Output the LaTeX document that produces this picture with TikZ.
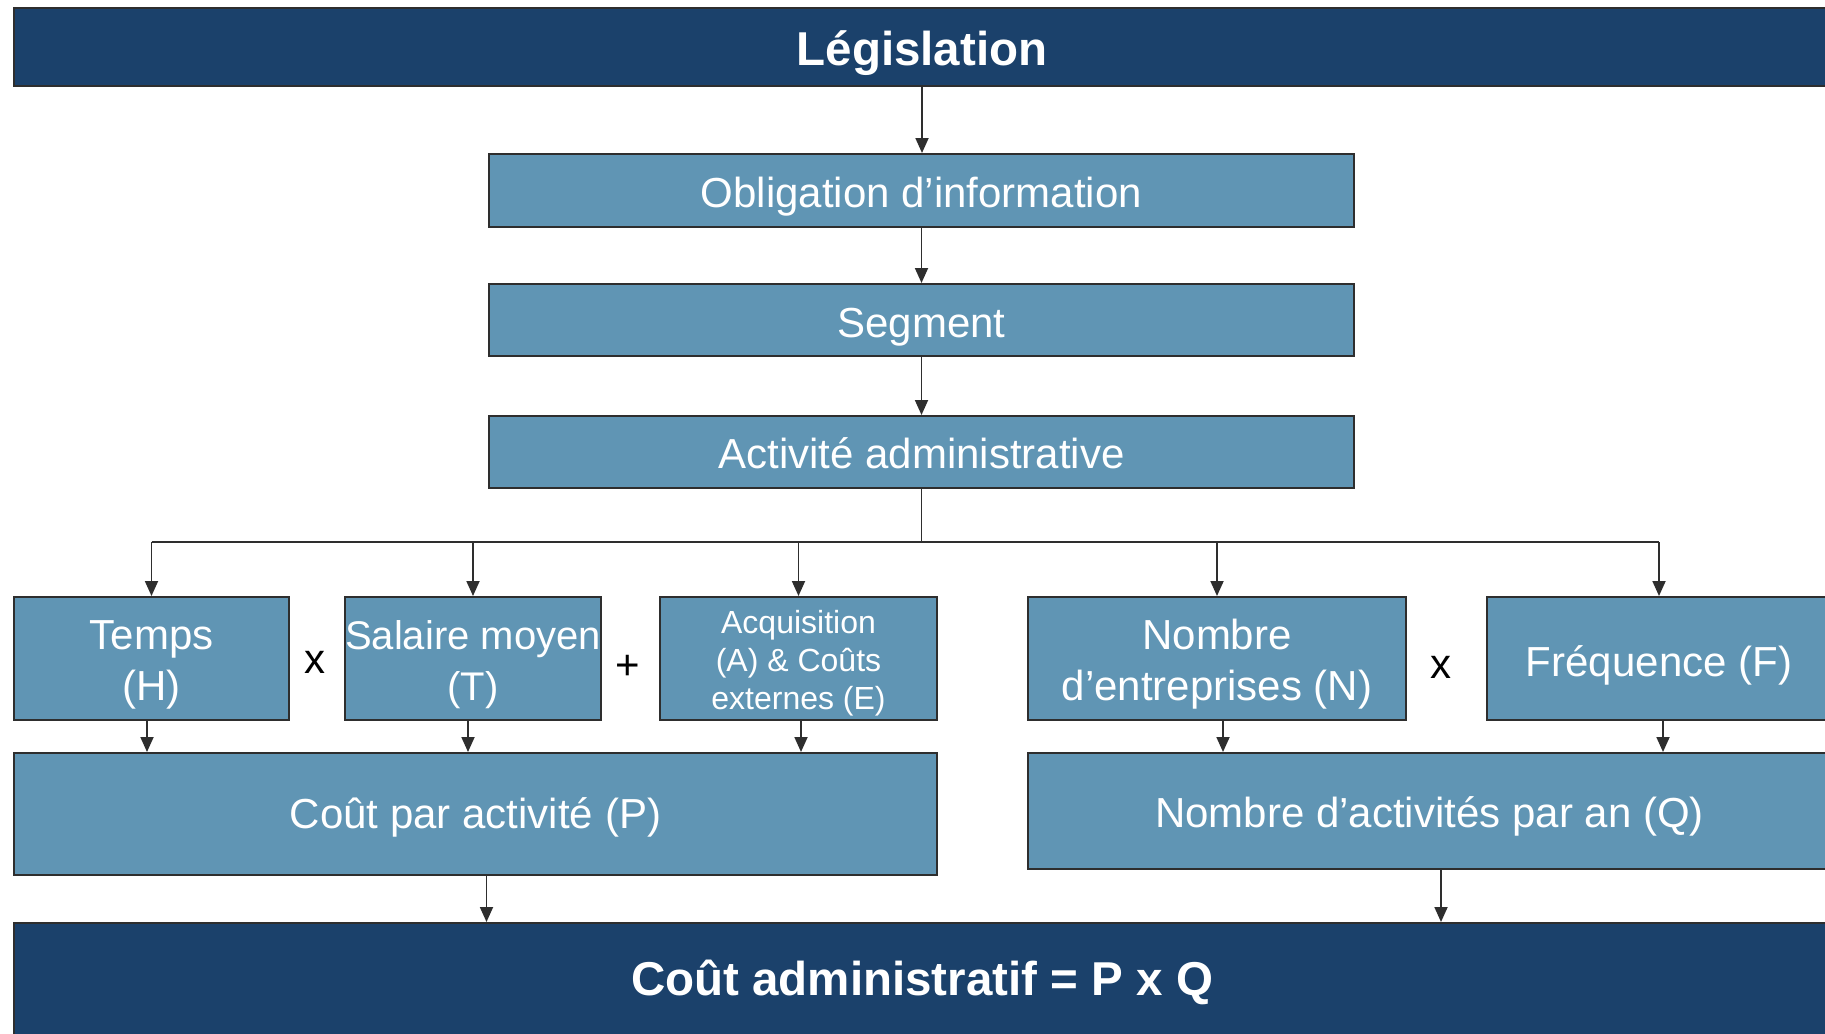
\documentclass[tikz,border=0pt]{standalone}
\usepackage{fontspec}
\setmainfont{Liberation Sans}
\usetikzlibrary{arrows.meta,calc}
\definecolor{navy}{HTML}{1B416B}
\definecolor{steel}{HTML}{6095B4}
\definecolor{edge}{HTML}{2E2E2E}
\begin{document}
\begin{tikzpicture}[x=1pt,y=-1pt,
  box/.style={draw=edge,line width=2pt,fill=steel,text=white,align=center,inner sep=0pt,font=\fontsize{42}{51}\selectfont,text height=34pt,text depth=0pt},
  two/.style={text height=84pt,text depth=0pt},
  bar/.style={draw=edge,line width=2pt,fill=navy,text=white,inner sep=0pt,font=\bfseries\fontsize{47.5}{57}\selectfont,text depth=0pt},
  arr/.style={draw=edge,line width=1.8pt,-{Triangle[length=15pt,width=13pt]}},
  busline/.style={draw=edge,line width=1.8pt},
  op/.style={font=\fontsize{42}{50}\selectfont,text=black,inner sep=0pt}
]
\path[use as bounding box, clip] (0,0) rectangle (1825,1033);
\fill[white] (0,0) rectangle (1825,1033);

\node[bar,text height=37pt,minimum width=1816pt,minimum height=78pt] (leg) at (922,47) {Législation};
\node[box,minimum width=865pt,minimum height=73pt] (obl) at (921.5,190.5) {Obligation d’information};
\node[box,minimum width=865pt,minimum height=72pt] (seg) at (921.5,320) {Segment};
\node[box,text height=33pt,minimum width=865pt,minimum height=72pt] (act) at (921.5,452) {Activité administrative};

\node[box,two,minimum width=275pt,minimum height=123pt] (tps) at (151.5,658.5) {Temps\\(H)};
\node[box,two,minimum width=256pt,minimum height=123pt,font=\fontsize{40}{51}\selectfont] (sal) at (473,658.5) {Salaire moyen\\(T)};
\node[box,minimum width=277pt,minimum height=123pt,font=\fontsize{32}{38}\selectfont,text height=102pt] (acq) at (798.5,658.5) {Acquisition\\(A) \& Coûts\\externes (E)};
\node[box,two,minimum width=378pt,minimum height=123pt] (nbe) at (1217,658.5) {Nombre\\d’entreprises (N)};
\node[box,text height=36pt,minimum width=344pt,minimum height=123pt] (frq) at (1659,658.5) {Fréquence (F)};

\node[op] (o1) at (315,662) {x};
\node[op] (o2) at (628,667) {+};
\node[op] (o3) at (1441,667) {x};

\node[box,text height=28pt,minimum width=923pt,minimum height=122pt] (cpa) at (475.5,814) {Coût par activité (P)};
\node[box,text height=33pt,minimum width=803pt,minimum height=116pt] (nda) at (1429.5,811) {Nombre d’activités par an (Q)};

\node[bar,text height=30pt,minimum width=1816pt,minimum height=114pt] (cout) at (922,980) {Coût administratif = P x Q};

\draw[arr] (leg.south) -- (leg.south |- obl.north);
\draw[arr] (obl.south) -- (seg.north);
\draw[arr] (seg.south) -- (act.north);
\coordinate (bus) at (921.5,542);
\draw[busline] (act.south) -- (bus);
\draw[busline] (tps.north |- bus) -- (frq.north |- bus);
\foreach \n in {tps,sal,acq,nbe,frq} \draw[arr] (\n.north |- bus) -- (\n.north);

\draw[arr] ([xshift=-4.5pt]tps.south) -- ([xshift=-4.5pt]tps.south |- cpa.north);
\draw[arr] ([xshift=-5pt]sal.south) -- ([xshift=-5pt]sal.south |- cpa.north);
\draw[arr] ([xshift=2.5pt]acq.south) -- ([xshift=2.5pt]acq.south |- cpa.north);
\draw[arr] ([xshift=6pt]nbe.south) -- ([xshift=6pt]nbe.south |- nda.north);
\draw[arr] ([xshift=4pt]frq.south) -- ([xshift=4pt]frq.south |- nda.north);

\draw[arr] ([xshift=11pt]cpa.south) -- ([xshift=11pt]cpa.south |- cout.north);
\draw[arr] ([xshift=11.5pt]nda.south) -- ([xshift=11.5pt]nda.south |- cout.north);
\end{tikzpicture}
\end{document}
